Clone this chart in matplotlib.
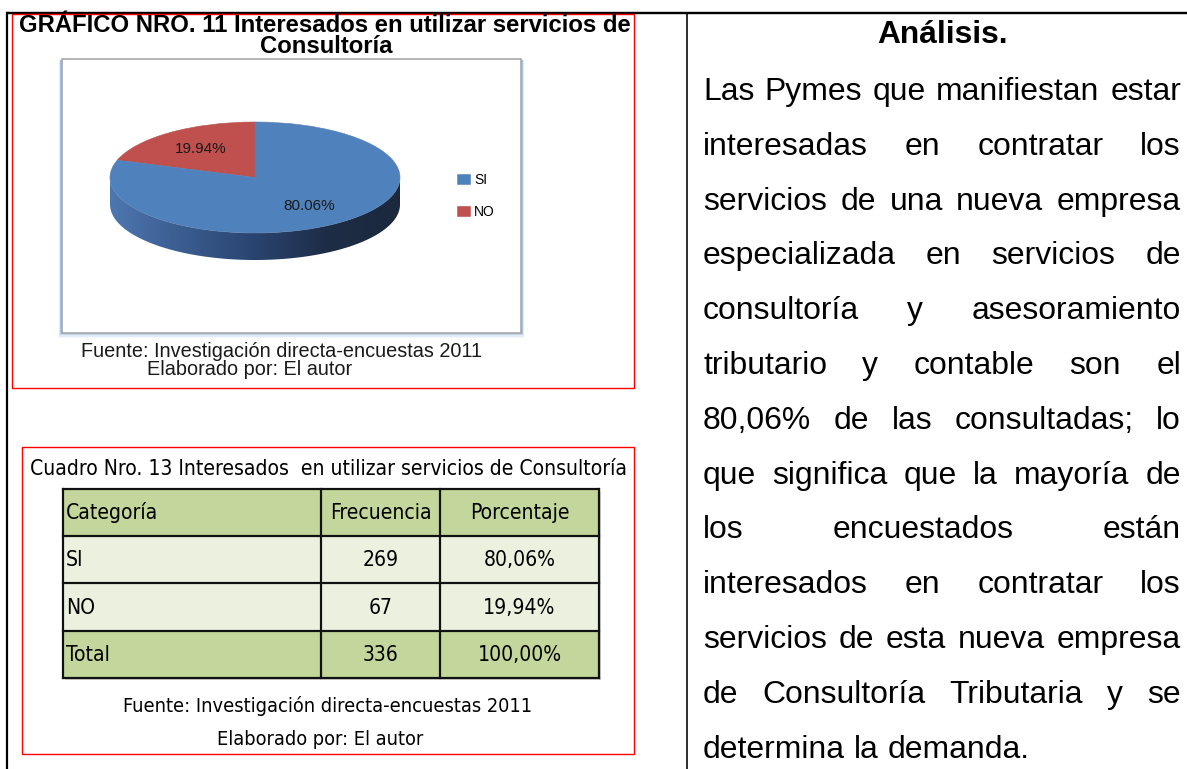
import numpy as np
import matplotlib
matplotlib.use('Agg')
import matplotlib.pyplot as plt
from matplotlib.patches import Rectangle, Polygon
from matplotlib.colors import LinearSegmentedColormap
from matplotlib import font_manager

# --- data ---
PIE_LABELS = ['SI', 'NO']
PIE_PCT = [80.06, 19.94]
PIE_COLORS = ['#4F81BD', '#C0504D']

TABLE_HEADER = ['Categoría', 'Frecuencia', 'Porcentaje']
CATEGORIAS = ['SI', 'NO', 'Total']
FRECUENCIA = [269, 67, 336]
PORCENTAJE = [80.06, 19.94, 100.00]

CHART_TITLE = ['GRÁFICO NRO. 11 Interesados en utilizar servicios de', 'Consultoría']
TABLE_TITLE = 'Cuadro Nro. 13 Interesados  en utilizar servicios de Consultoría'
FUENTE = 'Fuente: Investigación directa-encuestas 2011'
ELABORADO = 'Elaborado por: El autor'

ANALISIS_TITLE = 'Análisis.'
ANALISIS_LINES = [
    'Las Pymes que manifiestan estar',
    'interesadas en contratar los',
    'servicios de una nueva empresa',
    'especializada en servicios de',
    'consultoría y asesoramiento',
    'tributario y contable son el',
    '80,06% de las consultadas; lo',
    'que significa que la mayoría de',
    'los encuestados están',
    'interesados en contratar los',
    'servicios de esta nueva empresa',
    'de Consultoría Tributaria y se',
    'determina la demanda.',
]

SANS = 'Liberation Sans'
names = {f.name for f in font_manager.fontManager.ttflist}
if 'Liberation Sans Narrow' in names:
    NARROW = dict(family='Liberation Sans Narrow')
elif any(f.name == 'DejaVu Sans' and f.stretch == 'condensed' for f in font_manager.fontManager.ttflist):
    NARROW = dict(family='DejaVu Sans', fontstretch='condensed')
else:
    NARROW = dict(family=SANS)

W, H = 1187, 769
PX = 0.72  # points per pixel at dpi 100

fig = plt.figure(figsize=(W / 100, H / 100), dpi=100)
ax = fig.add_axes([0, 0, 1, 1])
ax.set_xlim(0, W)
ax.set_ylim(H, 0)
ax.axis('off')
renderer = fig.canvas.get_renderer()


def fit_text(x, y, s, width, **kw):
    t = ax.text(x, y, s, fontsize=10, **kw)
    w = t.get_window_extent(renderer).width
    t.set_fontsize(10 * width / w)
    return t


# page frame
ax.plot([6, W], [13, 13], color='black', lw=2.4 * PX, solid_capstyle='butt')
ax.plot([7, 7], [13, H], color='black', lw=2.2 * PX)
ax.plot([687, 687], [13, H], color='black', lw=1.6 * PX)

# red boxes
ax.add_patch(Rectangle((12, 13.5), 622, 374.5, fill=False, ec='#FF0000', lw=1.4 * PX, zorder=3))
ax.add_patch(Rectangle((22, 447), 612, 307, fill=False, ec='#FF0000', lw=1.4 * PX, zorder=3))

# chart title
t = fit_text(325, 32, CHART_TITLE[0], 613, ha='center', va='baseline',
             family=SANS, fontweight='bold')
ax.text(326, 53, CHART_TITLE[1], fontsize=t.get_fontsize(), ha='center', va='baseline',
        family=SANS, fontweight='bold')

# chart area box with soft blue shadow
for i, a in enumerate([0.55, 0.35, 0.18, 0.08]):
    ax.add_patch(Rectangle((60 - i * 0.3, 60), 463 + i * 0.6, 274 + i * 1.4,
                           fc='#8DB3E2', ec='none', alpha=a, zorder=1))
ax.add_patch(Rectangle((62, 59), 459, 274, fc='white', ec='#A6A6A6', lw=1.6 * PX, zorder=2))

# chart source lines
t = fit_text(282, 357, FUENTE, 400, ha='center', va='baseline', family=SANS, color='#1a1a1a')
ax.text(250, 375, ELABORADO, fontsize=t.get_fontsize(), ha='center', va='baseline',
        family=SANS, color='#1a1a1a')

# --- 3D-looking pie ---
cx, cy, ra, rb, depth = 255, 177.5, 145, 55.5, 27
xl, yl = (-1.2, 1.2), (-1.8, 1.2)
axp = fig.add_axes([(cx + xl[0] * ra) / W, 1 - (cy - yl[0] * rb) / H,
                    (xl[1] - xl[0]) * ra / W, (yl[1] - yl[0]) * rb / H])
axp.patch.set_alpha(0)
d = depth / rb

t_side = np.linspace(np.pi, 2 * np.pi, 200)
side_pts = np.vstack([np.column_stack([np.cos(t_side), np.sin(t_side)]),
                      np.column_stack([np.cos(t_side[::-1]), np.sin(t_side[::-1]) - d])])
side = Polygon(side_pts, closed=True, fc='none', ec='none')
axp.add_patch(side)
side_cmap = LinearSegmentedColormap.from_list('side', ['#4E77B0', '#3A5C8F', '#2A4470', '#1E2D46', '#1B283E'])
grad = axp.imshow(np.linspace(0, 1, 256)[None, :], cmap=side_cmap, aspect='auto',
                  extent=(-1, 1, -1 - d, 0.05), zorder=1)
grad.set_clip_path(side)

order = [1, 0]  # NO starts at 12 o'clock, counter-clockwise
wedges, texts, autotexts = axp.pie([PIE_PCT[i] for i in order],
                                   colors=[PIE_COLORS[i] for i in order],
                                   startangle=90, counterclock=True,
                                   autopct=lambda p: f'{p:.2f}%', pctdistance=0.64,
                                   textprops=dict(fontsize=11, family=SANS, color='#1a1a1a'),
                                   wedgeprops=dict(linewidth=0.4, edgecolor='#5a7fb0'))
wedges[0].set_edgecolor('#b85450')
for w in wedges:
    w.set_zorder(3)
for a_t in autotexts:
    a_t.set_zorder(4)
axp.set_aspect('auto')
axp.set_xlim(*xl)
axp.set_ylim(*yl)
axp.axis('off')

leg = axp.legend([wedges[order.index(0)], wedges[order.index(1)]], PIE_LABELS,
                 loc='center left', bbox_to_anchor=(457, 196), bbox_transform=ax.transData,
                 frameon=False, handlelength=0.9, handleheight=0.75,
                 handletextpad=0.35, labelspacing=1.3, borderpad=0, borderaxespad=0,
                 prop=dict(family=SANS, size=10))

# --- table ---
COL_X = [63, 321, 440, 599]
ROW_Y = [489, 536, 583, 631, 678]
fit_text(328, 475, TABLE_TITLE, 600, ha='center', va='baseline', color='black', **NARROW)

row_colors = ['#C3D69B', '#EBF1DE', '#EBF1DE', '#C3D69B']
for r in range(4):
    ax.add_patch(Rectangle((COL_X[0], ROW_Y[r]), COL_X[-1] - COL_X[0], ROW_Y[r + 1] - ROW_Y[r],
                           fc=row_colors[r], ec='none', zorder=1))
# soft shadow
ax.add_patch(Rectangle((COL_X[0] + 2, ROW_Y[0] + 2), COL_X[-1] - COL_X[0], ROW_Y[-1] - ROW_Y[0],
                       fc='#d0d0d0', ec='none', zorder=0.5))
for y in ROW_Y:
    ax.plot([COL_X[0], COL_X[-1]], [y, y], color='#111111', lw=2.2 * PX, zorder=2)
for x in COL_X:
    ax.plot([x, x], [ROW_Y[0], ROW_Y[-1]], color='#111111', lw=2.2 * PX, zorder=2)

probe = ax.text(0, 0, TABLE_HEADER[1], fontsize=10, **NARROW)
cell_size = 10 * 102 / probe.get_window_extent(renderer).width
probe.remove()

rows = [TABLE_HEADER] + [[c, str(f), f'{p:.2f}%'.replace('.', ',')]
                         for c, f, p in zip(CATEGORIAS, FRECUENCIA, PORCENTAJE)]
for r, row in enumerate(rows):
    yb = (ROW_Y[r] + ROW_Y[r + 1]) / 2 + 6.5
    ax.text(COL_X[0] + 3, yb, row[0], fontsize=cell_size, ha='left', va='baseline',
            color='black', zorder=3, **NARROW)
    for c in (1, 2):
        ax.text((COL_X[c] + COL_X[c + 1]) / 2, yb, row[c], fontsize=cell_size, ha='center',
                va='baseline', color='black', zorder=3, **NARROW)

t = fit_text(328, 712, FUENTE, 410, ha='center', va='baseline', color='black', **NARROW)
ax.text(320, 745, ELABORADO, fontsize=t.get_fontsize(), ha='center', va='baseline',
        color='black', **NARROW)

# --- analysis text (justified) ---
fit_text(942, 43, ANALISIS_TITLE, 131, ha='center', va='baseline', family=SANS, fontweight='bold')

probe = ax.text(0, 0, ANALISIS_LINES[-1], fontsize=10, family=SANS)
body_size = 10 * 327 / probe.get_window_extent(renderer).width
probe.remove()
p1 = ax.text(0, 0, 'a a', fontsize=body_size, family=SANS)
p2 = ax.text(0, 0, 'aa', fontsize=body_size, family=SANS)
space_w = p1.get_window_extent(renderer).width - p2.get_window_extent(renderer).width
p1.remove()
p2.remove()

x0, x1, y0, dy = 703, 1181, 100, 54.8
for i, line in enumerate(ANALISIS_LINES):
    y = y0 + i * dy
    words = line.split()
    txts = [ax.text(0, y, w, fontsize=body_size, family=SANS, va='baseline', color='black')
            for w in words]
    widths = [tx.get_window_extent(renderer).width for tx in txts]
    if i == len(ANALISIS_LINES) - 1 or len(words) == 1:
        gap = space_w
    else:
        gap = (x1 - x0 - sum(widths)) / (len(words) - 1)
    x = x0
    for tx, w in zip(txts, widths):
        tx.set_x(x)
        x += w + gap

fig.savefig('out.png', dpi=100)
